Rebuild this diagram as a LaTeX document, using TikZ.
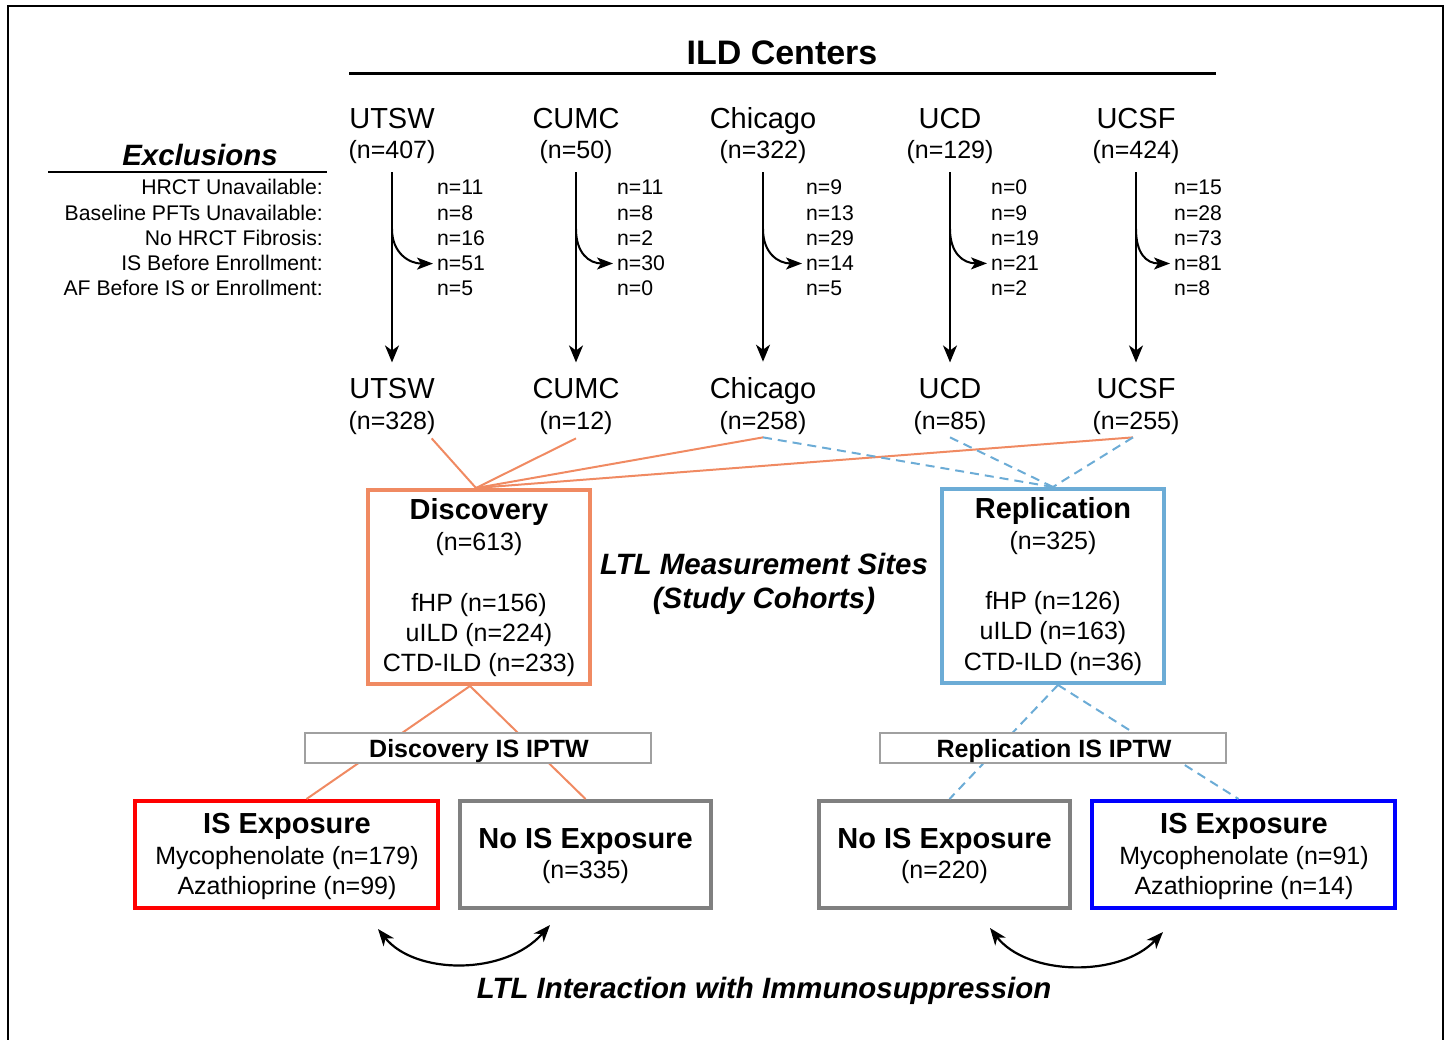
\documentclass[tikz,border=0pt]{standalone}
\usepackage{fontspec}
\setmainfont{Liberation Sans}
\usetikzlibrary{arrows.meta}
\definecolor{discC}{RGB}{240,138,98}
\definecolor{replC}{RGB}{108,172,214}
\definecolor{grayC}{RGB}{128,128,128}
\definecolor{iptwC}{RGB}{160,160,160}
\begin{document}
\begin{tikzpicture}[x=1pt,y=-1pt,
  tA/.style={inner sep=0pt, font=\fontsize{29}{34}\selectfont},
  tAb/.style={inner sep=0pt, font=\fontsize{29}{34}\selectfont\bfseries},
  tAbi/.style={inner sep=0pt, font=\fontsize{29.4}{34}\selectfont\bfseries\itshape},
  tB/.style={inner sep=0pt, font=\fontsize{25}{30}\selectfont},
  tBb/.style={inner sep=0pt, font=\fontsize{25}{30}\selectfont\bfseries},
  tC/.style={inner sep=0pt, font=\fontsize{21.2}{25}\selectfont},
  bigbox/.style={draw, line width=4pt, inner sep=0pt},
  iptwbox/.style={draw=iptwC, line width=1.5pt, fill=white, inner sep=0pt, minimum width=346pt, minimum height=30pt},
  varrow/.style={line width=2pt, -{Stealth[length=17pt,width=14pt,inset=5pt]}},
  barrow/.style={line width=2pt, -{Stealth[length=16pt,width=12pt,inset=4pt]}},
  darrow/.style={line width=2.2pt, {Stealth[length=17pt,width=13pt,inset=5pt]}-{Stealth[length=17pt,width=13pt,inset=5pt]}},
  oline/.style={draw=discC, line width=2pt},
  bline/.style={draw=replC, line width=2pt, dash pattern=on 9pt off 6pt}]
\useasboundingbox (0,0) rectangle (1450,1040);
\begin{scope}
\clip (0,0) rectangle (1450,1040);
\draw[line width=2.5pt] (8,6) rectangle (1443,1080);
\end{scope}

% header
\node[inner sep=0pt, font=\fontsize{34}{40}\selectfont\bfseries, anchor=base] (ild) at (782,65) {ILD Centers};
\coordinate (ildL) at (349,74);
\coordinate (ildR) at (1216,74);
\draw[line width=3pt] (ildL) -- (ildR);

% exclusions
\node[tAbi, anchor=base] (excl) at (200,166) {Exclusions};
\coordinate (exL) at (48,172);
\coordinate (exR) at (327,172);
\draw[line width=2pt] (exL) -- (exR);
\node[tC, anchor=base east] (ex1) at (323,195) {HRCT Unavailable:};
\node[tC, anchor=base east] (ex2) at (323,220.3) {Baseline PFTs Unavailable:};
\node[tC, anchor=base east] (ex3) at (323,245.6) {No HRCT Fibrosis:};
\node[tC, anchor=base east] (ex4) at (323,270.8) {IS Before Enrollment:};
\node[tC, anchor=base east] (ex5) at (323,296) {AF Before IS or Enrollment:};

% centers
\foreach \i/\x/\nm/\na/\nb/\cx/\ca/\cb/\cc/\cd/\ce in {
1/392/UTSW/407/328/437/11/8/16/51/5,
2/576/CUMC/50/12/617/11/8/2/30/0,
3/763/Chicago/322/258/806/9/13/29/14/5,
4/950/UCD/129/85/991/0/9/19/21/2,
5/1136/UCSF/424/255/1174/15/28/73/81/8}
{
  \node[tA, anchor=base] (tn\i) at (\x,128.4) {\nm};
  \node[tB, anchor=base] (tc\i) at (\x,159) {(n=\na)};
  \node[tA, anchor=base] (bn\i) at (\x,398.4) {\nm};
  \node[tB, anchor=base] (bc\i) at (\x,429) {(n=\nb)};
  \node[tC, anchor=base west] (c\i1) at (\cx,195) {n=\ca};
  \node[tC, anchor=base west] (c\i2) at (\cx,220.3) {n=\cb};
  \node[tC, anchor=base west] (c\i3) at (\cx,245.6) {n=\cc};
  \node[tC, anchor=base west] (c\i4) at (\cx,270.8) {n=\cd};
  \node[tC, anchor=base west] (c\i5) at (\cx,296) {n=\ce};
  \draw[varrow] ([yshift=-8pt]tc\i.south) -- ([yshift=15.5pt]bn\i.north);
  \coordinate (br\i) at (\x,229);
  \draw[barrow] (br\i) .. controls +(0,24) and +(-24,0) .. ([xshift=-4pt]c\i4.west);
}

% cohort boxes
\node[bigbox, draw=discC, minimum width=222pt, minimum height=194pt] (disc) at (479,587) {};
\node[bigbox, draw=replC, minimum width=222pt, minimum height=194pt] (repl) at (1053,586) {};
\node[tAb, anchor=base] (discT) at (479,519.4) {Discovery};
\node[tB, anchor=base] (discN) at (479,550) {(n=613)};
\node[tB, anchor=base] (discA) at (479,611) {fHP (n=156)};
\node[tB, anchor=base] (discB) at (479,641) {uILD (n=224)};
\node[tB, anchor=base] (discC) at (479,671) {CTD-ILD (n=233)};
\node[tAb, anchor=base] (replT) at (1053,518.4) {Replication};
\node[tB, anchor=base] (replN) at (1053,549) {(n=325)};
\node[tB, anchor=base] (replA) at (1053,609) {fHP (n=126)};
\node[tB, anchor=base] (replB) at (1053,639) {uILD (n=163)};
\node[tB, anchor=base] (replC) at (1053,670) {CTD-ILD (n=36)};

\node[tAbi, anchor=base] (lms1) at (764,574.4) {LTL Measurement Sites};
\node[tAbi, anchor=base] (lms2) at (764,608.4) {(Study Cohorts)};

% site -> cohort connectors
\draw[oline] ([xshift=-4pt,yshift=-4pt]bc1.south east) -- ([xshift=-3pt]disc.north);
\draw[oline] ([yshift=-4pt]bc2.south) -- ([xshift=-3pt]disc.north);
\draw[oline] ([yshift=-3pt]bc3.south) -- ([xshift=-3pt]disc.north);
\draw[oline] ([xshift=-3pt,yshift=-3pt]bc5.south) -- ([xshift=-3pt]disc.north);
\draw[bline] ([yshift=-3pt]bc3.south) -- (repl.north);
\draw[bline] ([yshift=-3pt]bc4.south) -- (repl.north);
\draw[bline] ([xshift=-3pt,yshift=-3pt]bc5.south) -- (repl.north);

% exposure boxes
\node[bigbox, draw=red, minimum width=303pt, minimum height=107pt] (isL) at (286.5,854.5) {};
\node[bigbox, draw=grayC, minimum width=251pt, minimum height=107pt] (noL) at (585.5,854.5) {};
\node[bigbox, draw=grayC, minimum width=251pt, minimum height=107pt] (noR) at (944.5,854.5) {};
\node[bigbox, draw=blue, minimum width=303pt, minimum height=107pt] (isR) at (1243.5,854.5) {};

\node[tAb, anchor=base] (isLT) at (287,833.4) {IS Exposure};
\node[tB, anchor=base] (isLA) at (287,864) {Mycophenolate (n=179)};
\node[tB, anchor=base] (isLB) at (287,894) {Azathioprine (n=99)};
\node[tAb, anchor=base] (noLT) at (585.5,848.4) {No IS Exposure};
\node[tB, anchor=base] (noLN) at (585.5,878) {(n=335)};
\node[tAb, anchor=base] (noRT) at (944.5,848.4) {No IS Exposure};
\node[tB, anchor=base] (noRN) at (944.5,878) {(n=220)};
\node[tAb, anchor=base] (isRT) at (1244,833.4) {IS Exposure};
\node[tB, anchor=base] (isRA) at (1244,864) {Mycophenolate (n=91)};
\node[tB, anchor=base] (isRB) at (1244,894) {Azathioprine (n=14)};

% cohort -> exposure connectors
\draw[oline] ([xshift=-9pt]disc.south) -- ([xshift=20pt]isL.north);
\draw[oline] ([xshift=-9pt]disc.south) -- (noL.north);
\draw[bline] ([xshift=5pt]repl.south) -- ([xshift=5pt]noR.north);
\draw[bline] ([xshift=5pt]repl.south) -- ([xshift=-5pt]isR.north);

% IPTW boxes on top
\node[iptwbox] (iptwL) at (478,748) {};
\node[iptwbox] (iptwR) at (1053,748) {};
\node[tBb, anchor=base] (iptwLT) at (479,757) {Discovery IS IPTW};
\node[tBb, anchor=base] (iptwRT) at (1054,757) {Replication IS IPTW};

% interaction arrows
\coordinate (aL1) at (378,929);
\coordinate (aL2) at (550,925);
\coordinate (aR1) at (990,928);
\coordinate (aR2) at (1163,932);
\draw[darrow] (aL1) .. controls (415,975) and (505,976) .. (aL2);
\draw[darrow] (aR1) .. controls (1027,976) and (1120,978) .. (aR2);
\node[tAbi, anchor=base] (inter) at (764,998.4) {LTL Interaction with Immunosuppression};
\end{tikzpicture}
\end{document}
